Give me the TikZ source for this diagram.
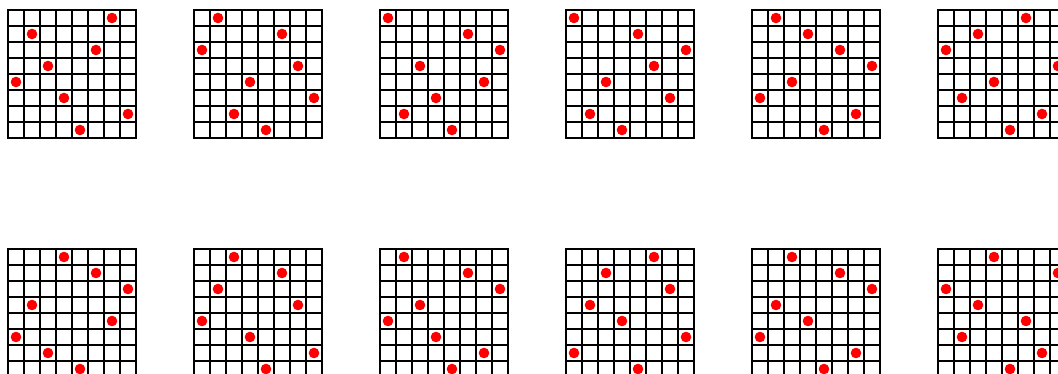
\documentclass[tikz,border=0pt]{standalone}
\begin{document}
\begin{tikzpicture}[x=1pt,y=-1pt,
  gridline/.style={line width=1.7pt, line cap=rect, black},
  queen/.style={fill=red}]
\useasboundingbox (0,0) rectangle (1058,374);
\clip (0,0) rectangle (1058,374);
\fill[white] (0,0) rectangle (1058,374);
\def\cs{16}
\foreach \bx/\by/\sol in {
  8/10/{6,1,5,2,0,3,7,4},
  194/10/{1,5,0,6,3,7,2,4},
  380/10/{0,5,7,2,6,3,1,4},
  566/10/{0,4,7,5,2,6,1,3},
  752/10/{1,3,5,7,2,0,6,4},
  938/10/{5,2,0,7,3,1,6,4},
  8/249/{3,5,7,1,6,0,2,4},
  194/249/{2,5,1,6,0,3,7,4},
  380/249/{1,5,7,2,0,3,6,4},
  566/249/{5,2,6,1,3,7,0,4},
  752/249/{2,5,7,1,3,0,6,4},
  938/249/{3,7,0,2,5,1,6,4}}{
  \begin{scope}[shift={(\bx,\by)}]
    \foreach \i in {0,...,8}{
      \draw[gridline] (\i*\cs,0) -- (\i*\cs,8*\cs);
      \draw[gridline] (0,\i*\cs) -- (8*\cs,\i*\cs);
    }
    \foreach \c [count=\r from 0] in \sol {
      \fill[queen] (\c*\cs+0.5*\cs,\r*\cs+0.5*\cs) circle (5.3);
    }
  \end{scope}
}
\end{tikzpicture}
\end{document}
